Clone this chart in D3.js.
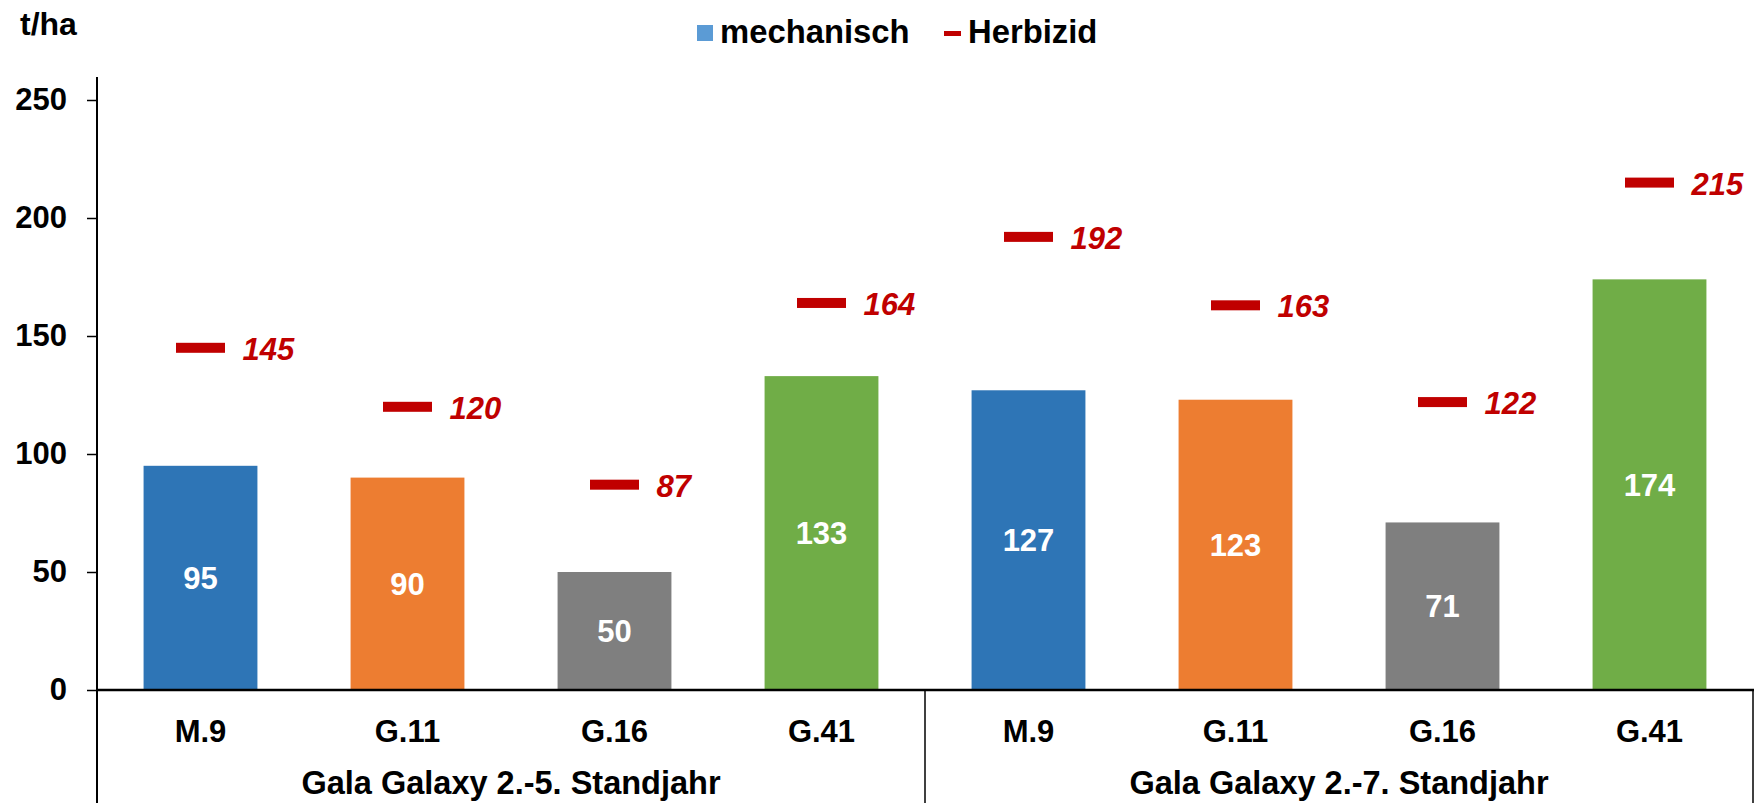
<!DOCTYPE html>
<html>
<head>
<meta charset="utf-8">
<script src="https://cdn.jsdelivr.net/npm/d3@7"></script>
<style>
  html, body { margin: 0; padding: 0; background: #fff; }
  svg text { font-family: "Liberation Sans", Arial, sans-serif; font-weight: bold; }
</style>
</head>
<body>
<svg id="chart" width="1754" height="803"></svg>
<script>
const categories = ["M.9", "G.11", "G.16", "G.41", "M.9", "G.11", "G.16", "G.41"];
const groups = ["Gala Galaxy 2.-5. Standjahr", "Gala Galaxy 2.-7. Standjahr"];
const mechanisch = [95, 90, 50, 133, 127, 123, 71, 174];
const herbizid = [145, 120, 87, 164, 192, 163, 122, 215];
const barColors = ["#2E75B6", "#ED7D31", "#7F7F7F", "#70AD47", "#2E75B6", "#ED7D31", "#7F7F7F", "#70AD47"];
const yTicks = [0, 50, 100, 150, 200, 250];
const legendLabels = ["mechanisch", "Herbizid"];
const unitLabel = "t/ha";

const svg = d3.select("#chart");
const left = 97, right = 1753, zeroY = 690, topY = 100;
const fs = 31;

const x = d3.scaleBand().domain(d3.range(categories.length)).range([left, right])
  .paddingInner(0.45).paddingOuter(0.225);
const y = d3.scaleLinear().domain([0, 250]).range([zeroY, topY]);

// bars
svg.append("g").selectAll("rect").data(mechanisch).join("rect")
  .attr("x", (d, i) => x(i))
  .attr("y", d => y(d))
  .attr("width", x.bandwidth())
  .attr("height", d => y(0) - y(d))
  .attr("fill", (d, i) => barColors[i]);

// bar value labels
svg.append("g").selectAll("text").data(mechanisch).join("text")
  .attr("x", (d, i) => x(i) + x.bandwidth() / 2)
  .attr("y", d => (y(d) + y(0)) / 2 + 11)
  .attr("text-anchor", "middle")
  .attr("fill", "#fff")
  .attr("font-size", fs)
  .text(d => d);

// herbizid markers
const mw = 49, mh = 10;
svg.append("g").selectAll("rect").data(herbizid).join("rect")
  .attr("x", (d, i) => x(i) + x.bandwidth() / 2 - mw / 2)
  .attr("y", d => y(d) - mh / 2)
  .attr("width", mw)
  .attr("height", mh)
  .attr("fill", "#C00000");

svg.append("g").selectAll("text").data(herbizid).join("text")
  .attr("x", (d, i) => x(i) + x.bandwidth() / 2 + 42)
  .attr("y", d => y(d) + 12)
  .attr("fill", "#C00000")
  .attr("font-style", "italic")
  .attr("font-size", fs)
  .text(d => d);

// y axis
const yAxis = svg.append("g").attr("transform", `translate(${left},0)`)
  .call(d3.axisLeft(y).tickValues(yTicks).tickSize(10).tickPadding(20));
yAxis.select(".domain").remove();
yAxis.selectAll(".tick line").attr("stroke", "#000").attr("stroke-width", 1.5);
yAxis.selectAll(".tick text").attr("font-size", fs).attr("fill", "#000")
  .attr("font-family", "Liberation Sans, Arial, sans-serif").attr("font-weight", "bold");
svg.append("line").attr("x1", left).attr("x2", left).attr("y1", topY - 23).attr("y2", 803)
  .attr("stroke", "#000").attr("stroke-width", 2);

// x axis line
svg.append("line").attr("x1", left).attr("x2", 1754).attr("y1", zeroY).attr("y2", zeroY)
  .attr("stroke", "#000").attr("stroke-width", 2.5);

// category labels
svg.append("g").selectAll("text").data(categories).join("text")
  .attr("x", (d, i) => x(i) + x.bandwidth() / 2)
  .attr("y", 742)
  .attr("text-anchor", "middle")
  .attr("font-size", fs)
  .attr("fill", "#000")
  .text(d => d);

// group separators & labels
const step = x.step();
[4, 8].forEach(k => {
  const gx = left + k * step;
  svg.append("line").attr("x1", gx).attr("x2", gx).attr("y1", zeroY).attr("y2", 803)
    .attr("stroke", "#000").attr("stroke-width", 1.5);
});
svg.append("g").selectAll("text").data(groups).join("text")
  .attr("x", (d, i) => left + (i * 4 + 2) * step)
  .attr("y", 794)
  .attr("text-anchor", "middle")
  .attr("font-size", 32.5)
  .attr("fill", "#000")
  .text(d => d);

// unit label
svg.append("text").attr("x", 20).attr("y", 35).attr("font-size", 32).attr("fill", "#000").text(unitLabel);

// legend
svg.append("rect").attr("x", 697).attr("y", 25).attr("width", 16).attr("height", 16).attr("fill", "#5B9BD5");
svg.append("text").attr("x", 720).attr("y", 43).attr("font-size", 32.8).attr("fill", "#000").text(legendLabels[0]);
svg.append("rect").attr("x", 944).attr("y", 31).attr("width", 17).attr("height", 5).attr("fill", "#C00000");
svg.append("text").attr("x", 968).attr("y", 43).attr("font-size", 32.8).attr("fill", "#000").text(legendLabels[1]);
</script>
</body>
</html>
